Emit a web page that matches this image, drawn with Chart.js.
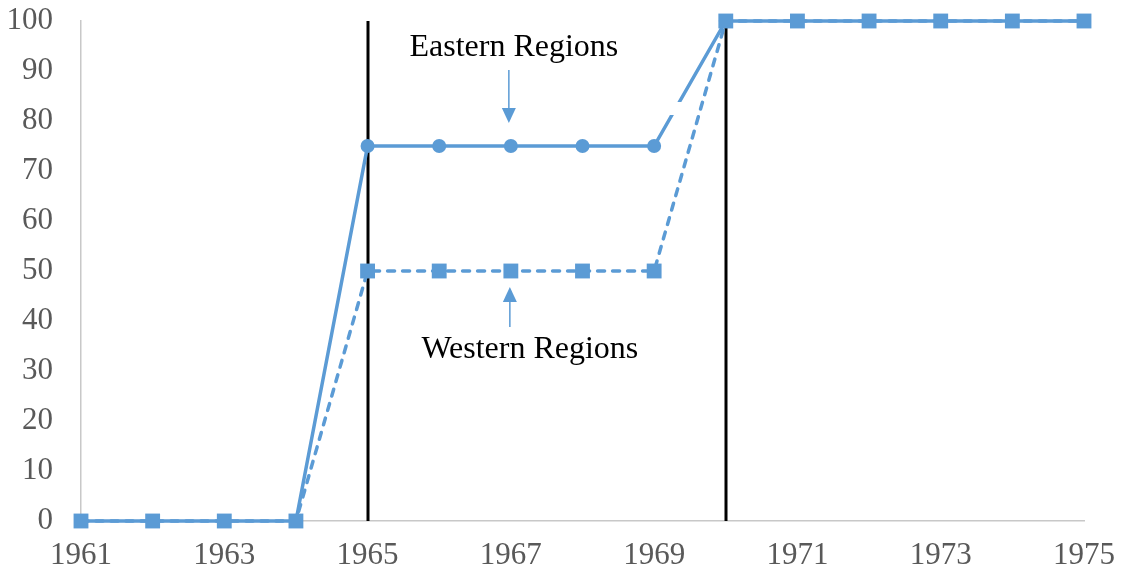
<!DOCTYPE html>
<html>
<head>
<meta charset="utf-8">
<script src="https://cdn.jsdelivr.net/npm/chart.js@4/dist/chart.umd.min.js"></script>
<style>
    html, body { margin: 0; padding: 0; background: #fff; }
    #wrap { width: 1121px; height: 576px; }
</style>
</head>
<body>
<div id="wrap"><canvas id="myChart"></canvas></div>
<script>
/*-----data-----*/
var years = ['1961', '1962', '1963', '1964', '1965', '1966', '1967', '1968',
    '1969', '1970', '1971', '1972', '1973', '1974', '1975'];
var eastern = [0, 0, 0, 0, 75, 75, 75, 75, 75, 100, 100, 100, 100, 100, 100];
var western = [0, 0, 0, 0, 50, 50, 50, 50, 50, 100, 100, 100, 100, 100, 100];
var markYears = ['1965', '1970'];
var yTicks = [0, 10, 20, 30, 40, 50, 60, 70, 80, 90, 100];

var blue = '#5b9bd5';
var serif = "'Liberation Serif', 'Times New Roman', serif";

/*-----vertical lines, labels and arrows-----*/
function arrow(ctx, x, y1, y2) {
    var dir = y2 > y1 ? 1 : -1;
    ctx.beginPath();
    ctx.moveTo(x, y1);
    ctx.lineTo(x, y2 - dir * 12);
    ctx.stroke();
    ctx.beginPath();
    ctx.moveTo(x, y2);
    ctx.lineTo(x - 7, y2 - dir * 15);
    ctx.lineTo(x + 7, y2 - dir * 15);
    ctx.closePath();
    ctx.fill();
}

var extras = {
    id: 'extras',
    beforeDatasetsDraw: function(chart) {
        var ctx = chart.ctx;
        var xs = chart.scales.x, ys = chart.scales.y;
        ctx.save();
        ctx.strokeStyle = '#000';
        ctx.lineWidth = 3;
        for (var i = 0; i < markYears.length; i++) {
            var px = Math.round(xs.getPixelForValue(years.indexOf(markYears[i])));
            ctx.beginPath();
            ctx.moveTo(px, ys.getPixelForValue(100));
            ctx.lineTo(px, ys.getPixelForValue(0));
            ctx.stroke();
        }
        ctx.restore();
    },
    afterDatasetsDraw: function(chart) {
        var ctx = chart.ctx;
        var xs = chart.scales.x, ys = chart.scales.y;
        ctx.save();
        // small white break in the eastern line
        var i69 = years.indexOf('1969');
        ctx.fillStyle = '#fff';
        ctx.beginPath();
        ctx.moveTo(xs.getPixelForValue(i69 + 0.2), ys.getPixelForValue(83.8));
        ctx.lineTo(xs.getPixelForValue(i69 + 0.5), ys.getPixelForValue(83.8));
        ctx.lineTo(xs.getPixelForValue(i69 + 0.45), ys.getPixelForValue(81.2));
        ctx.lineTo(xs.getPixelForValue(i69 + 0.1), ys.getPixelForValue(81.2));
        ctx.closePath();
        ctx.fill();

        var cx = xs.getPixelForValue(years.indexOf('1967'));
        ctx.fillStyle = '#000';
        ctx.font = '32px ' + serif;
        ctx.textAlign = 'center';
        ctx.textBaseline = 'middle';
        ctx.fillText('Eastern Regions', cx + 3, ys.getPixelForValue(94.6));
        ctx.fillText('Western Regions', cx + 19, ys.getPixelForValue(34.2));

        ctx.strokeStyle = blue;
        ctx.fillStyle = blue;
        ctx.lineWidth = 1.5;
        arrow(ctx, cx - 2, ys.getPixelForValue(90.2), ys.getPixelForValue(79.6));
        arrow(ctx, cx - 1, ys.getPixelForValue(38.8), ys.getPixelForValue(46.8));
        ctx.restore();
    }
};

var ctx = document.getElementById('myChart').getContext('2d');
var myChart = new Chart(ctx, {
    type: 'line',
    data: {
        labels: years,
        datasets: [{
            label: 'Western Regions',
            data: western,
            borderColor: blue,
            backgroundColor: blue,
            borderWidth: 3.5,
            borderDash: [7, 8],
            borderCapStyle: 'round',
            pointStyle: 'rect',
            pointRadius: 10.5,
            pointBorderWidth: 0,
            tension: 0,
            clip: false
        }, {
            label: 'Eastern Regions',
            data: eastern,
            borderColor: blue,
            backgroundColor: blue,
            borderWidth: 3.5,
            pointStyle: 'circle',
            pointRadius: 7,
            pointBorderWidth: 0,
            tension: 0,
            clip: false
        }]
    },
    options: {
        responsive: true,
        maintainAspectRatio: false,
        animation: false,
        layout: { padding: { left: 0, right: 37, top: 21, bottom: 0 } },
        plugins: {
            legend: { display: false },
            tooltip: { enabled: false }
        },
        scales: {
            x: {
                offset: false,
                grid: { display: false },
                border: { display: true, color: '#c8c8c8', width: 1.5 },
                afterFit: function(axis) {
                    axis.height = 55;
                    axis.paddingLeft = 0;
                    axis.paddingRight = 0;
                },
                ticks: {
                    autoSkip: false,
                    maxRotation: 0,
                    padding: 8,
                    color: '#595959',
                    font: { family: serif, size: 31 },
                    callback: function(v, i) { return i % 2 === 0 ? years[i] : ''; }
                }
            },
            y: {
                min: 0,
                max: 100,
                afterBuildTicks: function(axis) {
                    axis.ticks = yTicks.map(function(v) { return { value: v }; });
                },
                afterFit: function(axis) {
                    axis.width = 81;
                    axis.paddingTop = 0;
                    axis.paddingBottom = 0;
                },
                grid: { display: false },
                border: { display: true, color: '#c8c8c8', width: 1.5 },
                ticks: {
                    padding: 20,
                    color: '#595959',
                    font: { family: serif, size: 31 }
                }
            }
        }
    },
    plugins: [extras]
});
</script>
</body>
</html>
